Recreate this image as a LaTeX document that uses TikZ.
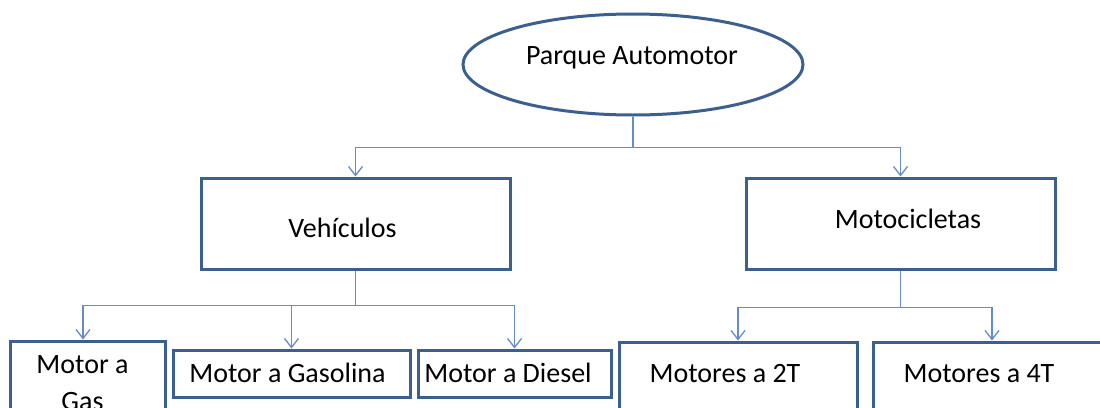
\documentclass[tikz,border=0pt]{standalone}
\usepackage{fontspec}
\setmainfont{Carlito}
\usetikzlibrary{shapes.geometric,arrows.meta}
\definecolor{boxc}{RGB}{60,96,142}
\definecolor{connc}{RGB}{100,140,200}
\newcommand\tpos[3]{\makebox[0pt]{\kern#1\relax\raisebox{#2}{#3}\kern-#1\relax}}
\begin{document}
\begin{tikzpicture}[x=1pt,y=-1pt,
  every node/.style={font=\fontsize{28}{34}\selectfont, text=black, inner sep=0pt, text height=19pt, text depth=0pt},
  boxnode/.style={draw=boxc, line width=3pt, fill=white, rectangle},
  ovalnode/.style={draw=boxc, line width=3pt, fill=white, ellipse},
  conn/.style={draw=connc, line width=1.3pt},
  arr/.style={conn, -{Straight Barb[length=9pt,width=14pt,line width=1.3pt]}}]
\useasboundingbox (0,0) rectangle (1100,407);
\clip (0,0) rectangle (1100,407);
\fill[white] (0,0) rectangle (1100,407);

\node[ovalnode, minimum width=340pt, minimum height=101pt] (root) at (633,64.5) {\tpos{-1pt}{10pt}{Parque Automotor}};

\node[boxnode, minimum width=309pt, minimum height=91pt] (veh) at (355.5,223.5) {\tpos{-13pt}{-4pt}{Vehículos}};
\node[boxnode, minimum width=309pt, minimum height=91pt] (moto) at (900.5,223.5) {\tpos{7.5pt}{5pt}{Motocicletas}};

\node[boxnode, minimum width=155pt, minimum height=120pt] (gas) at (87.5,401) {\tpos{-5pt}{0.5pt}{\begin{tabular}[b]{@{}c@{}}Motor a\\[3pt]Gas\end{tabular}}};
\node[boxnode, minimum width=237pt, minimum height=47pt] (gasolina) at (291.5,373.5) {\tpos{-4pt}{1pt}{Motor a Gasolina}};
\node[boxnode, minimum width=193pt, minimum height=47pt] (diesel) at (514.5,373.5) {\tpos{-6.5pt}{1pt}{Motor a Diesel}};
\node[boxnode, minimum width=238pt, minimum height=80pt] (m2t) at (738,382) {\tpos{-13pt}{9.5pt}{Motores a 2T}};
\node[boxnode, minimum width=238pt, minimum height=80pt] (m4t) at (992,382) {\tpos{-13pt}{9.5pt}{Motores a 4T}};

\draw[conn] (root.south) -- ++(0,31) coordinate (j1);
\draw[arr] (j1) -| (veh.north);
\draw[arr] (j1) -| (moto.north);

\draw[conn] (veh.south) -- ++(0,35) coordinate (j2);
\draw[arr] (j2) -| ([xshift=-4.5pt]gas.north);
\draw[arr] (j2) -| (gasolina.north);
\draw[arr] (j2) -| (diesel.north);

\draw[conn] (moto.south) -- ++(0,37) coordinate (j3);
\draw[arr] (j3) -| (m2t.north);
\draw[arr] (j3) -| (m4t.north);
\end{tikzpicture}
\end{document}
